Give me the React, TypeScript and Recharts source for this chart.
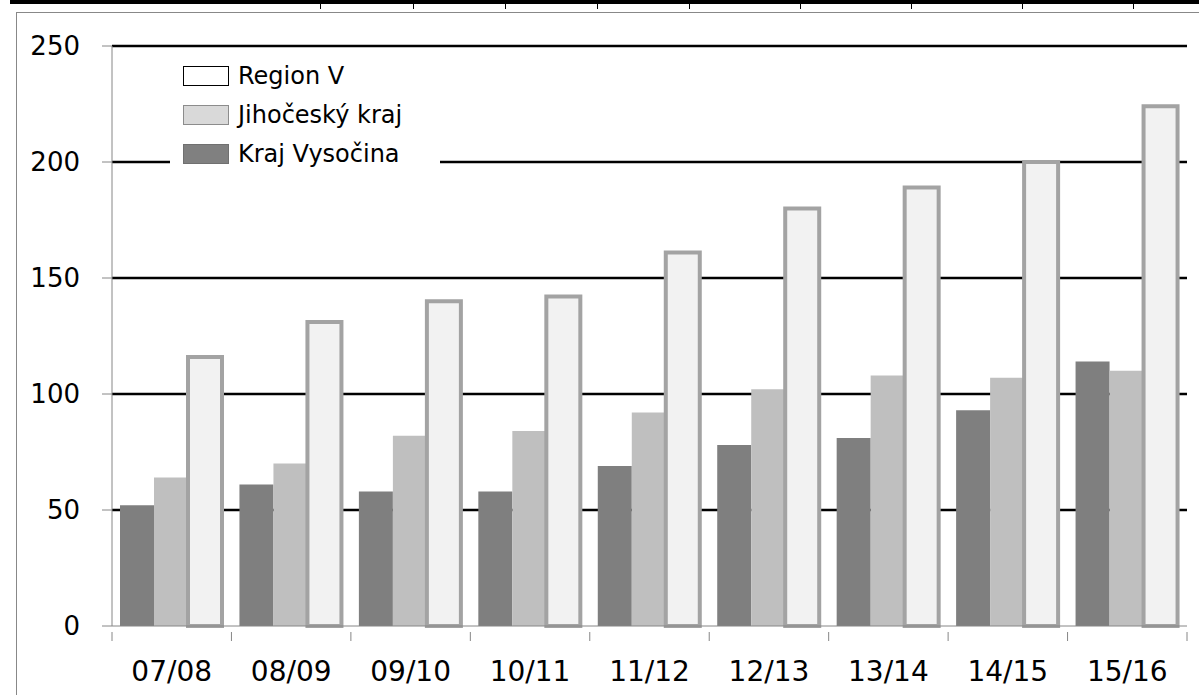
import React from 'react'
import { BarChart, Bar, XAxis, YAxis, CartesianGrid, Legend } from 'recharts'

// kategorie (školní roky)
const years = ['07/08', '08/09', '09/10', '10/11', '11/12', '12/13', '13/14', '14/15', '15/16']
const krajVysocina = [52, 61, 58, 58, 69, 78, 81, 93, 114]
const jihoceskyKraj = [64, 70, 82, 84, 92, 102, 108, 107, 110]
const regionV = [116, 131, 140, 142, 161, 180, 189, 200, 224]
const yTicks = [0, 50, 100, 150, 200, 250]
const gridValues = [50, 100, 150, 200, 250]

const data = years.map((y, i) => ({
  name: y,
  vysocina: krajVysocina[i],
  jihocesky: jihoceskyKraj[i],
  region: regionV[i],
}))

const W = 1199
const H = 695
const PLOT_LEFT = 112
const PLOT_RIGHT = 1187
const BAND = (PLOT_RIGHT - PLOT_LEFT) / years.length
const FONT = '"DejaVu Sans", Verdana, sans-serif'
const AXIS = '#868686'

const legendItems = [
  { label: 'Region V', fill: '#ffffff', border: '#000000' },
  { label: 'Jihočeský kraj', fill: '#d9d9d9', border: '#8c8c8c' },
  { label: 'Kraj Vysočina', fill: '#808080', border: '#707070' },
]

function XTick(props: any) {
  const { x, y, payload, index } = props
  const left = x - BAND / 2
  return (
    <g>
      <line x1={left} y1={y} x2={left} y2={y + 9} stroke={AXIS} />
      {index === years.length - 1 && (
        <line x1={x + BAND / 2} y1={y} x2={x + BAND / 2} y2={y + 9} stroke={AXIS} />
      )}
      <text x={x} y={y + 49} textAnchor="middle" fontFamily={FONT} fontSize={28} fill="#000">
        {payload.value}
      </text>
    </g>
  )
}

function LegendBox() {
  return (
    <div style={{ fontFamily: FONT, fontSize: 24, color: '#000' }}>
      {legendItems.map((it) => (
        <div key={it.label} style={{ display: 'flex', alignItems: 'center', height: 39 }}>
          <div
            style={{
              width: 44,
              height: 18,
              background: it.fill,
              border: `1px solid ${it.border}`,
              marginLeft: 13,
              marginRight: 9,
            }}
          />
          <span>{it.label}</span>
        </div>
      ))}
    </div>
  )
}

const topTicks = [320, 413, 505, 597, 689, 800, 911, 1022, 1133]

export default function App() {
  return (
    <div style={{ position: 'absolute', left: 0, top: 0, width: W, height: H, background: '#fff', overflow: 'hidden' }}>
      {/* okraj tabulky nahoře */}
      <div style={{ position: 'absolute', left: 10, top: 0, width: W - 10, height: 4, background: '#000' }} />
      {topTicks.map((x) => (
        <div key={x} style={{ position: 'absolute', left: x, top: 0, width: 1, height: 9, background: '#000' }} />
      ))}
      {/* rámeček grafu */}
      <div
        style={{
          position: 'absolute',
          left: 16,
          top: 12,
          width: W,
          height: H,
          borderLeft: '1px solid #888',
          borderTop: '1px solid #888',
        }}
      />
      <div style={{ position: 'absolute', left: 0, top: 0 }}>
        <BarChart
          width={W}
          height={H}
          data={data}
          margin={{ top: 46, right: W - PLOT_RIGHT, left: 0, bottom: 0 }}
          barCategoryGap={8}
          barGap={0}
        >
          <CartesianGrid vertical={false} horizontalValues={gridValues} stroke="#000" strokeWidth={2.5} />
          <XAxis
            dataKey="name"
            height={69}
            axisLine={{ stroke: AXIS }}
            tickLine={false}
            tickMargin={0}
            tick={<XTick />}
            interval={0}
          />
          <YAxis
            width={PLOT_LEFT}
            domain={[0, 250]}
            ticks={yTicks}
            axisLine={{ stroke: AXIS }}
            tickLine={{ stroke: AXIS }}
            tickSize={10}
            tickMargin={22}
            tick={{ fill: '#000', fontSize: 26, fontFamily: FONT }}
          />
          <Legend
            layout="vertical"
            align="center"
            verticalAlign="middle"
            content={<LegendBox />}
            wrapperStyle={{ left: 170, top: 56, width: 270, height: 118, background: '#fff' }}
          />
          <Bar dataKey="vysocina" name="Kraj Vysočina" fill="#7f7f7f" isAnimationActive={false} />
          <Bar dataKey="jihocesky" name="Jihočeský kraj" fill="#bfbfbf" isAnimationActive={false} />
          <Bar
            dataKey="region"
            name="Region V"
            fill="#f2f2f2"
            stroke="#a3a3a3"
            strokeWidth={4}
            isAnimationActive={false}
          />
        </BarChart>
      </div>
    </div>
  )
}
